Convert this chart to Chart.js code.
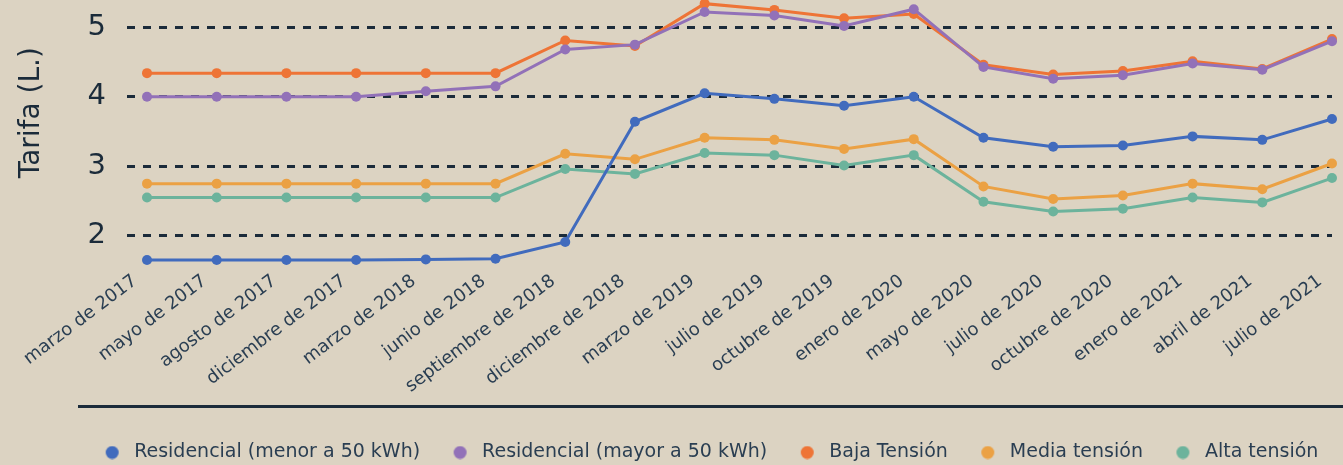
<!DOCTYPE html>
<html>
<head>
<meta charset="utf-8">
<script src="https://cdn.jsdelivr.net/npm/chart.js@4"></script>
<style>
  html, body { margin: 0; padding: 0; background: #dcd3c2; overflow: hidden; }
  #wrap { position: relative; width: 1343px; height: 465px; overflow: hidden; }
  #my-chart { position: absolute; left: 0; top: -50px; }
</style>
</head>
<body>
<div id="wrap"><canvas id="my-chart" width="1343" height="522"></canvas></div>
<script>
const labels = ['marzo de 2017','mayo de 2017','agosto de 2017','diciembre de 2017','marzo de 2018','junio de 2018','septiembre de 2018','diciembre de 2018','marzo de 2019','julio de 2019','octubre de 2019','enero de 2020','mayo de 2020','julio de 2020','octubre de 2020','enero de 2021','abril de 2021','julio de 2021'];
const resMenor = [1.65,1.65,1.65,1.65,1.66,1.67,1.91,3.64,4.05,3.97,3.87,4.00,3.41,3.28,3.30,3.43,3.38,3.68];
const resMayor = [4.00,4.00,4.00,4.00,4.08,4.15,4.68,4.75,5.22,5.17,5.02,5.26,4.43,4.26,4.31,4.48,4.39,4.80];
const baja = [4.34,4.34,4.34,4.34,4.34,4.34,4.81,4.73,5.34,5.25,5.13,5.19,4.46,4.32,4.37,4.51,4.40,4.83];
const media = [2.75,2.75,2.75,2.75,2.75,2.75,3.18,3.10,3.41,3.38,3.25,3.39,2.71,2.53,2.58,2.75,2.67,3.04];
const alta = [2.55,2.55,2.55,2.55,2.55,2.55,2.96,2.89,3.19,3.16,3.01,3.16,2.49,2.35,2.39,2.55,2.48,2.83];
const yTicks = [2, 3, 4, 5];

const ink = '#1b2b3a';
const textCol = '#2a3e52';
const font = 'DejaVu Sans';

// little dot images so the legend text sits further from the marker
function dot(color) {
  const c = document.createElement('canvas');
  c.width = 20; c.height = 14;
  const g = c.getContext('2d');
  g.fillStyle = color;
  g.beginPath();
  g.ellipse(7.5, 7, 6.5, 6.5, 0, 0, Math.PI * 2);
  g.fill();
  return c;
}

const series = [
  {label: 'Residencial (menor a 50 kWh)', data: resMenor, color: '#416bbd'},
  {label: 'Residencial (mayor a 50 kWh)', data: resMayor, color: '#9271b8'},
  {label: 'Baja Tensión', data: baja, color: '#ee7436'},
  {label: 'Media tensión', data: media, color: '#eba144'},
  {label: 'Alta tensión', data: alta, color: '#6cb39c'}
];

const separator = {
  id: 'separator',
  afterLayout(chart) {
    chart.legend.left += 38;
    chart.legend.right += 38;
  },
  afterDraw(chart) {
    const ctx = chart.ctx;
    const y = chart.legend.top - 4;
    ctx.save();
    ctx.strokeStyle = ink;
    ctx.lineWidth = 3;
    ctx.beginPath();
    ctx.moveTo(78, y);
    ctx.lineTo(chart.width, y);
    ctx.stroke();
    ctx.restore();
  }
};

const ctx = document.getElementById('my-chart').getContext('2d');
new Chart(ctx, {
  type: 'line',
  data: {
    labels: labels,
    datasets: series.map(s => ({
      label: s.label,
      data: s.data,
      borderColor: s.color,
      backgroundColor: s.color,
      pointBackgroundColor: s.color,
      pointBorderWidth: 0,
      pointRadius: 5,
      borderWidth: 3,
      tension: 0,
      fill: false
    }))
  },
  plugins: [separator],
  options: {
    responsive: false,
    animation: false,
    layout: { padding: { left: 15, right: 11, top: 0, bottom: 0 } },
    plugins: {
      tooltip: { enabled: false },
      legend: {
        position: 'bottom',
        labels: {
          usePointStyle: true,
          pointStyleWidth: 20,
          boxHeight: 14,
          padding: 32.5,
          color: textCol,
          font: { family: font, size: 19 },
          generateLabels: (chart) => {
            const items = Chart.defaults.plugins.legend.labels.generateLabels(chart);
            items.forEach((it, i) => { it.pointStyle = dot(series[i].color); });
            return items;
          }
        }
      }
    },
    scales: {
      x: {
        grid: { display: false },
        border: { display: false },
        ticks: {
          autoSkip: false,
          maxRotation: 37,
          minRotation: 37,
          padding: -8,
          labelOffset: -12,
          color: textCol,
          font: { family: font, size: 18 }
        },
        afterFit: (scale) => {
          scale.height = 140;
          scale.paddingLeft = 0;
          scale.paddingRight = 0;
        }
      },
      y: {
        min: 1.5,
        max: 6.04,
        afterBuildTicks: (scale) => { scale.ticks = yTicks.map(v => ({value: v})); },
        afterFit: (scale) => {
          scale.width = 132;
          scale.paddingTop = 0;
          scale.paddingBottom = 0;
        },
        border: { display: false, dash: [8, 8], dashOffset: 4 },
        grid: {
          color: ink,
          lineWidth: 3,
          tickLength: 20,
          tickColor: ink,
          tickWidth: 3,
          tickBorderDash: [8, 8],
          tickBorderDashOffset: 0
        },
        ticks: {
          padding: 21,
          color: ink,
          font: { family: font, size: 29 }
        },
        title: {
          display: true,
          text: 'Tarifa (L.)',
          color: ink,
          font: { family: font, size: 28 },
          padding: 0
        }
      }
    }
  }
});
</script>
</body>
</html>
